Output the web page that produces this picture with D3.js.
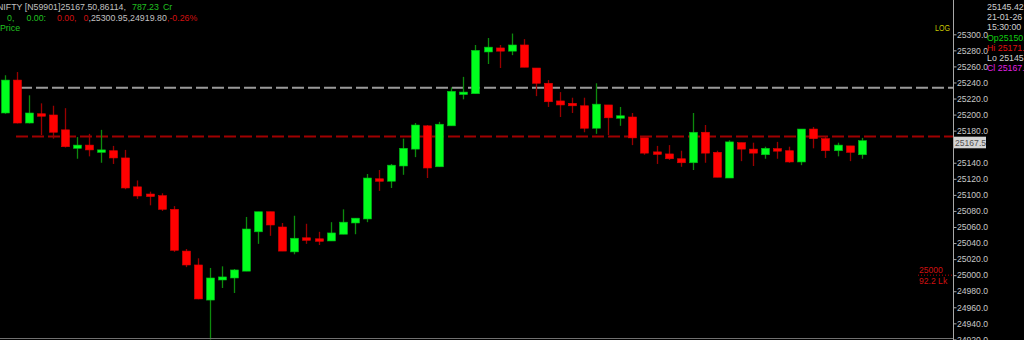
<!DOCTYPE html>
<html><head><meta charset="utf-8">
<script src="https://cdn.jsdelivr.net/npm/d3@7"></script>
<style>
html,body{margin:0;padding:0;background:#000;}
svg{display:block;}
text{font-family:"Liberation Sans",Arial,sans-serif;}
</style></head>
<body><svg id="c" width="1024" height="340"></svg>
<script>
// ---- data (NIFTY candles) ----
const opens  = [25202,25243,25189.5,25201,25199.5,25181,25158,25162,25154,25155,
  25146,25110,25100,25099,25082,25030,25012.7,24969,24994,24996.5,
  25005,25054,25079,25060,25029,25045.5,25044.5,25042.6,25051,25065,
  25070,25119,25117,25136,25157,25186,25135,25186,25226,25226,
  25278,25283,25279,25286.7,25258,25239,25217,25214,25211,25183,
  25212,25196,25197,25171,25152.5,25151,25145,25140,25178,25153,
  25121,25165,25157,25150,25157,25155,25141,25182,25170,25155,
  25161,25150];
const highs  = [25249,25253,25224,25214,25211,25208,25172,25176,25181,25161,
  25156,25118,25104,25102,25086,25032.6,25021,25009,25011,25007.7,
  25072.5,25079,25079,25065,25074,25064,25054,25066,25082,25071,
  25126,25131,25138.5,25170,25189.5,25187,25191,25234,25247,25286.7,
  25295.4,25286.7,25300.95,25294,25258,25243,25228,25221,25221,25239,
  25212,25209.5,25202,25171,25161,25162,25155,25202,25187,25155,
  25168,25165,25165,25160,25166,25160,25182,25184.6,25172,25165,
  25161,25171];
const lows   = [25201,25189,25189,25174.6,25170,25159,25145,25148,25140,25138.5,
  25107,25095,25087,25080,25029,25010,24970,24919.8,24984,24977.8,
  25005,25039,25049,25030,25026,25039,25037.6,25042.6,25051,25051,
  25066,25105,25108.6,25125,25147,25121,25135,25186,25219,25226,
  25263,25258,25274,25259,25223,25209.5,25197,25202,25178,25176,
  25174.6,25186,25162,25150,25138.5,25143.5,25135,25131,25140,25122,
  25121,25142,25136,25145,25145,25140,25137,25158,25146,25148,
  25142,25145];
const closes = [25243,25189.5,25202,25198,25178,25160,25162,25156,25155,25146,
  25108.6,25098.6,25099,25082,25031,25012.7,24970.4,24996.5,24997.8,25006.5,
  25057.5,25079,25062.5,25030,25046,25044.5,25043,25052.6,25066,25071,
  25121,25118,25137,25158,25187,25133.5,25188,25229,25227,25280,
  25284,25279,25286.7,25259,25239,25216,25212,25211,25183,25213,
  25196,25198,25171,25152,25151.5,25145,25140,25178,25152,25122,
  25166,25157,25152,25158,25155,25141,25182,25170,25155,25162,
  25153,25167.5];
const yTicks = d3.range(24920, 25301, 20);
const hLineGray = 25233.5;
const hLineRed = 25172.7;
const lastPrice = 25167.5;
const volLevel = 25000;
const volLabel = ["25000", "92.2 Lk"];
const headerLine1 = [["NIFTY [N59901]", "#c0c0c0"], ["25167.50,86114,", "#c0c0c0"], ["787.23", "#20c020"], ["Cr", "#20c020"]];
const headerLine2 = [["0,", "#20c020"], ["0.00:", "#20c020"], ["0.00,", "#d01010"], ["0", "#d01010"], [",25300.95,24919.80", "#c0c0c0"], [",-0.26%", "#d01010"]];
const infoLines = [["", "25145.42", "#d0d0d0"], ["", "21-01-26", "#d0d0d0"], ["", "15:30:00", "#d0d0d0"],
  ["Op", "25150.00", "#10d010"], ["Hi ", "25171.00", "#e01010"], ["Lo ", "25145.42", "#d0d0d0"], ["Cl ", "25167.50", "#e020e0"]];

// ---- chart ----
const svg = d3.select("#c");
svg.append("rect").attr("width",1024).attr("height",340).attr("fill","#000");
const n = opens.length;
const data = d3.range(n).map(i => ({i, o:opens[i], h:highs[i], l:lows[i], c:closes[i]}));
const x = d3.scaleLinear().domain([0, n-1]).range([4.7, 861.7]);
const y = d3.scaleLinear().domain([24920, 25300]).range([339.4, 34.3]);
const axisX = 953.5;

// reference lines
svg.append("line").attr("x1",20).attr("x2",axisX).attr("y1",y(hLineGray)).attr("y2",y(hLineGray))
  .attr("stroke","#9a9a9a").attr("stroke-width",2).attr("stroke-dasharray","12,4");
svg.append("line").attr("x1",16).attr("x2",axisX).attr("y1",y(hLineRed)).attr("y2",y(hLineRed))
  .attr("stroke","#a00000").attr("stroke-width",2).attr("stroke-dasharray","12,4");

// candles
const g = svg.append("g");
const up = d => d.c >= d.o;
g.selectAll("line.w").data(data).join("line").attr("class","w")
  .attr("x1", d => Math.round(x(d.i)) + 0.5).attr("x2", d => Math.round(x(d.i)) + 0.5)
  .attr("y1", d => y(d.h)).attr("y2", d => y(d.l))
  .attr("stroke", d => up(d) ? "#0d8a0d" : "#9a0000").attr("stroke-width", 1.3);
g.selectAll("rect.b").data(data).join("rect").attr("class","b")
  .attr("x", d => Math.round(x(d.i)) - 3.5)
  .attr("width", 8)
  .attr("y", d => { const t = y(Math.max(d.o,d.c)), b = y(Math.min(d.o,d.c)); return b - t < 2.5 ? (t+b)/2 - 1.25 : t; })
  .attr("height", d => Math.max(2.5, y(Math.min(d.o,d.c)) - y(Math.max(d.o,d.c))))
  .attr("fill", d => up(d) ? "#00ff1e" : "#ff0000")
  .attr("stroke", d => up(d) ? "#00b818" : "#e00000").attr("stroke-width", 0.6);

// bottom line & axis line
svg.append("line").attr("x1",0).attr("x2",axisX).attr("y1",338.5).attr("y2",338.5).attr("stroke","#707070").attr("stroke-width",1);
svg.append("line").attr("x1",axisX).attr("x2",axisX).attr("y1",0).attr("y2",340).attr("stroke","#a8a8a8").attr("stroke-width",1);

// y axis (ticks hidden behind the last-price label are skipped)
const lp = y(lastPrice);
const shownTicks = yTicks.filter(v => Math.abs(y(v) - (lp + 2)) > 7);
const ax = svg.append("g").attr("transform",`translate(${axisX},0)`)
  .call(d3.axisRight(y).tickValues(shownTicks).tickFormat(d3.format(".1f")).tickSize(3).tickPadding(0.5));
ax.select(".domain").remove();
ax.selectAll(".tick line").attr("stroke","#a8a8a8");
ax.selectAll(".tick text").attr("fill","#c8c8c8").style("font-size","8.6px").style("font-family","Liberation Sans, Arial, sans-serif");

// LOG
svg.append("text").attr("x",935).attr("y",31).attr("fill","#c8c800").style("font-size","8.2px")
  .attr("textLength",15).attr("lengthAdjust","spacingAndGlyphs").text("LOG");

// last price label
svg.append("rect").attr("x",954).attr("y",lp-4).attr("width",32).attr("height",11.6).attr("fill","#d4d4d4");
svg.append("text").attr("x",955).attr("y",lp+5).attr("fill","#505050").style("font-size","8.6px").text(d3.format(".1f")(lastPrice));

// volume marker
const vy = y(volLevel);
svg.append("line").attr("x1",918).attr("x2",axisX).attr("y1",vy).attr("y2",vy).attr("stroke","#c00000").attr("stroke-width",1).attr("stroke-dasharray","1,2");
svg.append("text").attr("x",919).attr("y",vy-2).attr("fill","#d01010").style("font-size","8.6px").text(volLabel[0]);
svg.append("text").attr("x",919).attr("y",vy+9).attr("fill","#d01010").style("font-size","8.6px").text(volLabel[1]);

// info panel
infoLines.forEach((r, k) => {
  const t = svg.append("text").attr("x",987).attr("y",10 + k*10.2).style("font-size","8.8px");
  if (r[0]) t.append("tspan").attr("fill", r[2]).text(r[0]);
  t.append("tspan").attr("fill", k===5 ? "#d0d0d0" : r[2]).text(r[1]);
});

// header
const h1x = [-3, 60.5, 132, 163];
headerLine1.forEach((s,k) => svg.append("text").attr("x",h1x[k]).attr("y",10).attr("fill",s[1]).style("font-size","8.8px").text(s[0]));
const h2x = [7, 26.5, 57, 83.5, 88.5, 167];
headerLine2.forEach((s,k) => svg.append("text").attr("x",h2x[k]).attr("y",21).attr("fill",s[1]).style("font-size","8.8px").text(s[0]));
svg.append("text").attr("x",0).attr("y",31).attr("fill","#20c020").style("font-size","8.8px").text("Price");
</script></body></html>
